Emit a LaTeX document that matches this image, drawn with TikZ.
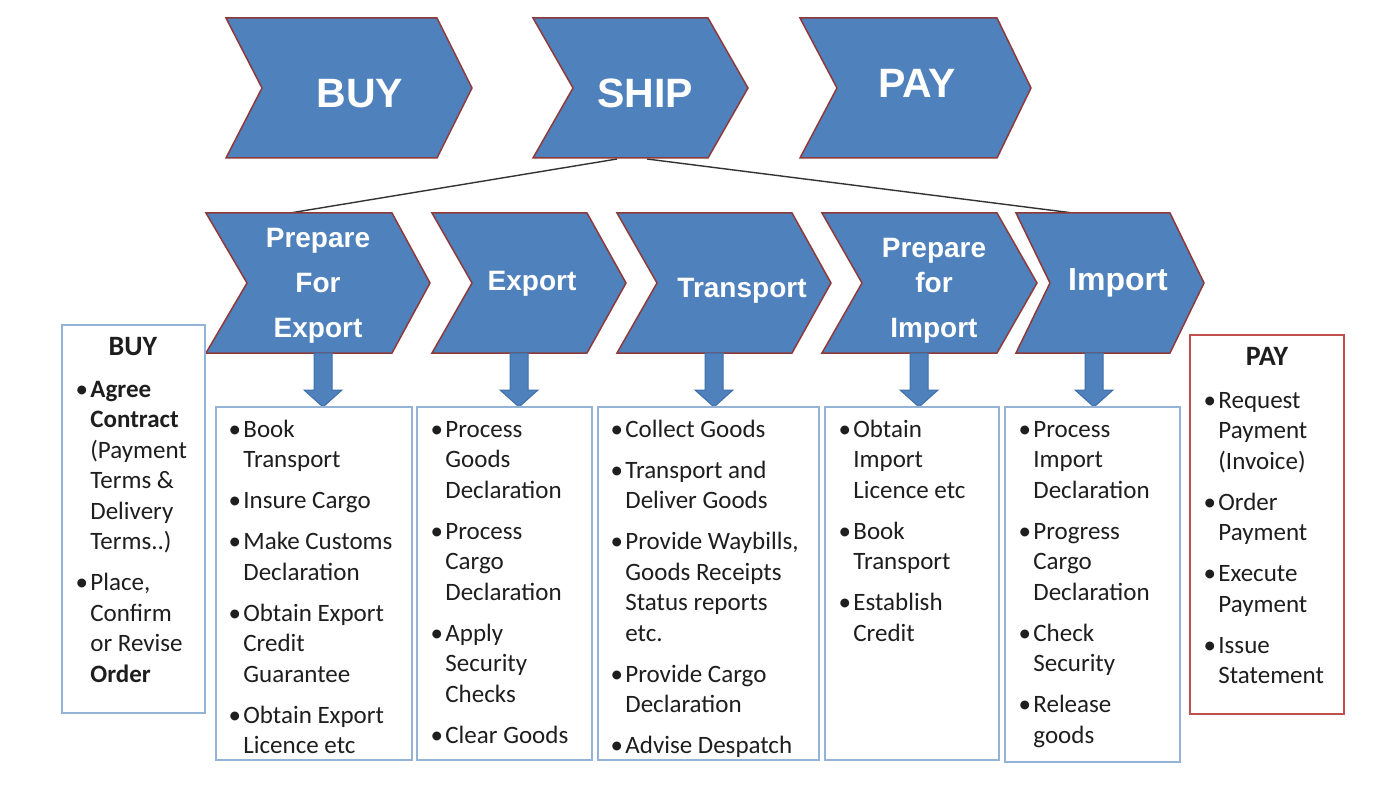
\documentclass[tikz,border=0pt]{standalone}
\usepackage{fontspec}
\setmainfont{Carlito}
\newfontfamily\headfont{Liberation Sans}
\usetikzlibrary{fit}
\definecolor{chevblue}{HTML}{4F81BD}
\definecolor{chevedge}{HTML}{8E3A3A}
\definecolor{boxblue}{HTML}{95B3D7}
\definecolor{boxred}{HTML}{C0504D}
\definecolor{arredge}{HTML}{3F6FA8}
\definecolor{txt}{HTML}{1E1E1E}
\newcommand\fs{\rule{0pt}{10pt}}
\newcommand\bul{\llap{\textbullet\hspace{1.2pt}}}
\begin{document}
\begin{tikzpicture}[x=0.5pt,y=-0.5pt,
  chev/.style={fill=chevblue,draw=chevedge,line width=0.75pt,line join=miter},
  toptxt/.style={text=white,font=\headfont\bfseries\fontsize{20.5pt}{24pt}\selectfont,inner sep=0,anchor=base},
  midtxt/.style={text=white,font=\headfont\bfseries\fontsize{14pt}{22.5pt}\selectfont,inner sep=0,align=center,anchor=north},
  onetxt/.style={text=white,font=\headfont\bfseries\fontsize{14pt}{17pt}\selectfont,inner sep=0,anchor=base},
  link/.style={draw=black!80,line width=0.7pt},
  arr/.style={fill=chevblue,draw=arredge,line width=0.5pt,line join=miter},
  bluebox/.style={draw=boxblue,line width=1.1pt,inner sep=0},
  redbox/.style={draw=boxred,line width=1.1pt,inner sep=0},
  btxt/.style={text=txt,font=\fontsize{12.5pt}{15.25pt}\selectfont,align=left,anchor=north west,inner sep=0},
  bhead/.style={text=txt,font=\bfseries\fontsize{14pt}{17pt}\selectfont,anchor=base,inner sep=0}]
\fill[white] (0,0) rectangle (1396,786);
\useasboundingbox (0,0) rectangle (1396,786);
% chevron macro: left, notch, corner, tip, top, bottom
\newcommand\chev[6]{\draw[chev] (#1,#5) -- (#3,#5) -- (#4,{(#5+#6)/2}) -- (#3,#6) -- (#1,#6) -- (#2,{(#5+#6)/2}) -- cycle;}
\newcommand\darr[1]{\draw[arr] (#1-9,353) -- (#1+9,353) -- (#1+9,390) -- (#1+19,390) -- (#1,407) -- (#1-19,390) -- (#1-9,390) -- cycle;}
% connector coordinates
\coordinate (shipbl) at (617,159);
\coordinate (shipbr) at (647,159);
\coordinate (pfetop) at (290,213);
\coordinate (imptop) at (1073,213);
\draw[link] (shipbl) -- (pfetop);
\draw[link] (shipbr) -- (imptop);
% top row
\chev{226}{262}{437}{472}{18}{158}
\chev{533}{573}{708}{748}{18}{158}
\chev{800}{837}{997}{1031}{18}{158}
\node[toptxt] (tbuy) at (360,108) {BUY};
\node[toptxt] (tship) at (645,108) {SHIP};
\node[toptxt] (tpay) at (917,98) {PAY};
% second row
\chev{206}{247}{392}{430}{213}{353}
\chev{432}{472}{587}{626}{213}{353}
\chev{617}{657}{792}{831}{213}{353}
\chev{822}{862}{997}{1037}{213}{353}
\chev{1016}{1050}{1170}{1204}{213}{353}
\node[midtxt] (tpfe) at (318,227) {\fs Prepare\\For\\Export};
\node[onetxt] (texp) at (532,290) {Export};
\node[onetxt] (ttrn) at (742,297) {Transport};
\node[midtxt] (tpfi) at (934,237) {\fs Prepare\\[-5pt]for\\Import};
\node[onetxt,font=\headfont\bfseries\fontsize{16pt}{19pt}\selectfont] (timp) at (1118,290) {Import};
% down arrows
\darr{323}
\darr{519}
\darr{714}
\darr{919}
\darr{1094}
% boxes
\node[bluebox,fit={(62,325) (205,713)}] (buybox) {};
\node[bluebox,fit={(216,407) (412,760)}] (box1) {};
\node[bluebox,fit={(417,407) (592,760)}] (box2) {};
\node[bluebox,fit={(598,407) (819,760)}] (box3) {};
\node[bluebox,fit={(825,407) (999,760)}] (box4) {};
\node[bluebox,fit={(1005,407) (1180,762)}] (box5) {};
\node[redbox,fit={(1190,335) (1344,714)}] (paybox) {};
% box texts
\node[bhead] (hbuy) at (133,355) {BUY};
\node[btxt] (lbuy) at (90,377) {\fs\bul\textbf{Agree}\\\textbf{Contract}\\(Payment\\Terms \&\\Delivery\\Terms..)\\[5.25pt]\bul Place,\\Confirm\\or Revise\\\textbf{Order}};
\node[btxt] (l1) at (243,417) {\fs\bul Book\\Transport\\[5.25pt]\bul Insure Cargo\\[5.25pt]\bul Make Customs\\Declaration\\[5.25pt]\bul Obtain Export\\Credit\\Guarantee\\[5.25pt]\bul Obtain Export\\Licence etc};
\node[btxt] (l2) at (445,417) {\fs\bul Process\\Goods\\Declaration\\[5.25pt]\bul Process\\Cargo\\Declaration\\[5.25pt]\bul Apply\\Security\\Checks\\[5.25pt]\bul Clear Goods};
\node[btxt] (l3) at (625,417) {\fs\bul Collect Goods\\[5.25pt]\bul Transport and\\Deliver Goods\\[5.25pt]\bul Provide Waybills,\\Goods Receipts\\Status reports\\etc.\\[5.25pt]\bul Provide Cargo\\Declaration\\[5.25pt]\bul Advise Despatch};
\node[btxt] (l4) at (853,417) {\fs\bul Obtain\\Import\\Licence etc\\[5.25pt]\bul Book\\Transport\\[5.25pt]\bul Establish\\Credit};
\node[btxt] (l5) at (1033,417) {\fs\bul Process\\Import\\Declaration\\[5.25pt]\bul Progress\\Cargo\\Declaration\\[5.25pt]\bul Check\\Security\\[5.25pt]\bul Release\\goods};
\node[bhead] (hpay) at (1267,365) {PAY};
\node[btxt] (lpay) at (1218,388) {\fs\bul Request\\Payment\\(Invoice)\\[5.25pt]\bul Order\\Payment\\[5.25pt]\bul Execute\\Payment\\[5.25pt]\bul Issue\\Statement};
\end{tikzpicture}
\end{document}
